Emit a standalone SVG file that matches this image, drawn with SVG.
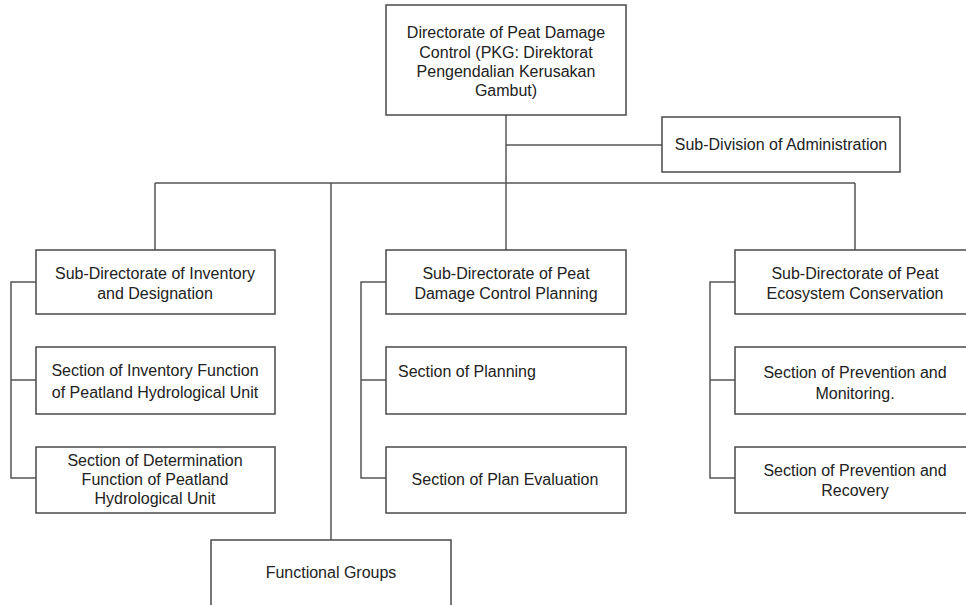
<svg xmlns="http://www.w3.org/2000/svg" width="966" height="605" viewBox="0 0 966 605">
  <style>
    .box { fill: #ffffff; stroke: #4a4a4a; stroke-width: 1.5; }
    .lbl { font-family: "Liberation Sans", Arial, sans-serif; font-size: 16px; fill: #222222; text-anchor: middle; }
    .lbl-l { text-anchor: start; }
    .wire { fill: none; stroke: #555555; stroke-width: 1.5; }
  </style>
  <rect width="966" height="605" fill="#ffffff"/>

  <!-- connectors -->
  <g id="connectors">
    <path class="wire" d="M506 115 V183"/>
    <path class="wire" d="M506 145 H662"/>
    <path class="wire" d="M155 183 H855"/>
    <path class="wire" d="M155 183 V250"/>
    <path class="wire" d="M506 183 V250"/>
    <path class="wire" d="M855 183 V250"/>
    <path class="wire" d="M331 183 V540"/>
    <!-- left column bracket -->
    <path class="wire" d="M36 282 H11 V478 H36 M11 380 H36"/>
    <!-- middle column bracket -->
    <path class="wire" d="M386 282 H361 V478 H386 M361 380 H386"/>
    <!-- right column bracket -->
    <path class="wire" d="M735 282 H710 V478 H735 M710 380 H735"/>
  </g>

  <g id="directorate">
    <rect class="box" x="386" y="5" width="240" height="110"/>
    <text class="lbl" x="506" y="38">Directorate of Peat Damage</text>
    <text class="lbl" x="506" y="57.5">Control (PKG: Direktorat</text>
    <text class="lbl" x="506" y="77">Pengendalian  Kerusakan</text>
    <text class="lbl" x="506" y="96">Gambut)</text>
  </g>

  <g id="admin">
    <rect class="box" x="662" y="117" width="238" height="55"/>
    <text class="lbl" x="781" y="150">Sub-Division of Administration</text>
  </g>

  <g id="subdir-inventory">
    <rect class="box" x="36" y="250" width="239" height="64"/>
    <text class="lbl" x="155" y="279">Sub-Directorate of Inventory</text>
    <text class="lbl" x="155" y="299">and Designation</text>
  </g>
  <g id="sec-inventory-function">
    <rect class="box" x="36" y="347" width="239" height="67"/>
    <text class="lbl" x="155" y="376">Section of Inventory Function</text>
    <text class="lbl" x="155" y="398">of Peatland  Hydrological  Unit</text>
  </g>
  <g id="sec-determination">
    <rect class="box" x="36" y="447" width="239" height="66"/>
    <text class="lbl" x="155" y="466">Section of Determination</text>
    <text class="lbl" x="155" y="485">Function of Peatland</text>
    <text class="lbl" x="155" y="504">Hydrological  Unit</text>
  </g>

  <g id="subdir-planning">
    <rect class="box" x="386" y="250" width="240" height="64"/>
    <text class="lbl" x="506" y="279">Sub-Directorate of Peat</text>
    <text class="lbl" x="506" y="299">Damage Control Planning</text>
  </g>
  <g id="sec-planning">
    <rect class="box" x="386" y="347" width="240" height="67"/>
    <text class="lbl lbl-l" x="398" y="377">Section of Planning</text>
  </g>
  <g id="sec-plan-evaluation">
    <rect class="box" x="386" y="447" width="240" height="66"/>
    <text class="lbl" x="505" y="485">Section of Plan Evaluation</text>
  </g>

  <g id="subdir-conservation">
    <rect class="box" x="735" y="250" width="240" height="64"/>
    <text class="lbl" x="855" y="279">Sub-Directorate of Peat</text>
    <text class="lbl" x="855" y="299">Ecosystem Conservation</text>
  </g>
  <g id="sec-monitoring">
    <rect class="box" x="735" y="347" width="240" height="67"/>
    <text class="lbl" x="855" y="378">Section of Prevention and</text>
    <text class="lbl" x="855" y="399">Monitoring.</text>
  </g>
  <g id="sec-recovery">
    <rect class="box" x="735" y="447" width="240" height="66"/>
    <text class="lbl" x="855" y="476">Section of Prevention and</text>
    <text class="lbl" x="855" y="496">Recovery</text>
  </g>

  <g id="functional-groups">
    <rect class="box" x="211" y="540" width="240" height="70"/>
    <text class="lbl" x="331" y="578">Functional Groups</text>
  </g>
</svg>
